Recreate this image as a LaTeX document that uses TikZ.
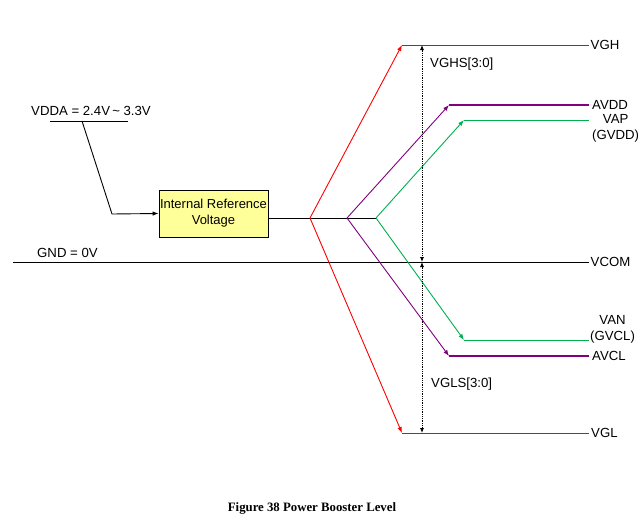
\documentclass[tikz,border=0pt]{standalone}
\usepackage{fontspec}
\setmainfont{Liberation Sans}
\newfontfamily\captionfont{Liberation Serif}
\usetikzlibrary{positioning, arrows.meta}

\definecolor{refyellow}{HTML}{FFFF99}
\definecolor{railpurple}{HTML}{800080}
\definecolor{railgreen}{HTML}{00B050}

\tikzset{
    wire/.style={line width=0.9pt},
    railtip/.style={-{Latex[length=6pt,width=4.5pt]}},
    dimline/.style={line width=0.8pt, densely dotted,
        {Latex[length=5pt,width=4pt]}-{Latex[length=5pt,width=4pt]}},
    railname/.style={anchor=west, inner sep=1.5pt, align=center}
}

\begin{document}
\begin{tikzpicture}[x=1pt,y=-1pt,font=\fontsize{13.2}{16}\selectfont]

    \useasboundingbox (0,0) rectangle (641,522);

    % Supply input and reference block
    \node[anchor=base west, inner sep=0pt] (vdda) at (31,115) {VDDA = 2.4V\,\textasciitilde\ 3.3V};
    \coordinate (ulA) at (50,121);
    \coordinate (ulB) at (128,121);
    \coordinate (ulT) at (82,121);
    \coordinate (bend) at (112,214);
    \node[draw, wire, fill=refyellow, minimum width=109pt, minimum height=47pt,
        inner sep=0pt, align=center, font=\fontsize{13}{16}\selectfont] (ref) at (213.5,213.5) {Internal Reference\\Voltage};

    % Branch points
    \coordinate (brR) at (310,218);
    \coordinate (brP) at (347,218);
    \coordinate (brG) at (376,218);

    % Rail corners
    \coordinate (vghC) at (402,45);
    \coordinate (avddC) at (449,105);
    \coordinate (vapC) at (464,120);
    \coordinate (vanC) at (464,340);
    \coordinate (avclC) at (449,356);
    \coordinate (vglC) at (402,433);
    \coordinate (gnd) at (13,262);

    % Rail labels
    \node[railname] (vgh) at (589,45) {VGH};
    \node[railname, inner sep=3pt] (avdd) at (589,105) {AVDD};
    \node[railname, inner sep=3pt] (vap) at (589,128) {VAP\\(GVDD)};
    \node[railname] (vcom) at (589,262) {VCOM};
    \node[railname, inner sep=1pt] (van) at (589,329) {VAN\\(GVCL)};
    \node[railname, inner sep=3pt] (avcl) at (589,356) {AVCL};
    \node[railname, inner sep=2pt] (vgl) at (589,433) {VGL};
    \node[anchor=base west, inner sep=0pt] (gndlbl) at (37,257) {GND = 0V};

    % Level ranges
    \coordinate (dimT) at (422,45);
    \coordinate (dimM) at (422,262);
    \coordinate (dimB) at (422,433);
    \node[anchor=west, inner sep=0pt] (vghs) at (430,64) {VGHS[3:0]};
    \node[anchor=west, inner sep=0pt] (vgls) at (431,384) {VGLS[3:0]};

    % Wires
    \draw[wire] (ulA) -- (ulB);
    \draw[wire, railtip] (ulT) -- (bend) -- (ref.west);
    \draw[wire] (ref.east |- brG) -- (brG);
    \draw[wire] (gnd) -- (vcom.west);

    \draw[wire, red, railtip] (brR) -- (vghC);
    \draw[wire, red] (vghC) -- (vgh.west);
    \draw[wire, red, railtip] (brR) -- (vglC);
    \draw[wire, red] (vglC) -- (vgl.west);

    \draw[wire, railpurple, railtip] (brP) -- (avddC);
    \draw[line width=2.4pt, railpurple] (avddC) -- (avdd.west);
    \draw[wire, railpurple, railtip] (brP) -- (avclC);
    \draw[line width=2.4pt, railpurple] (avclC) -- (avcl.west);

    \draw[wire, railgreen, railtip] (brG) -- (vapC);
    \draw[wire, railgreen] (vapC) -- (vap.west |- vapC);
    \draw[wire, railgreen, railtip] (brG) -- (vanC);
    \draw[wire, railgreen] (vanC) -- (van.west |- vanC);

    \draw[dimline] (dimT) -- (dimM);
    \draw[dimline] (dimM) -- (dimB);

    % Caption
    \node[font=\captionfont\bfseries\fontsize{12.8}{14}\selectfont] (cap) at (312,508) {Figure 38 Power Booster Level};

\end{tikzpicture}
\end{document}
